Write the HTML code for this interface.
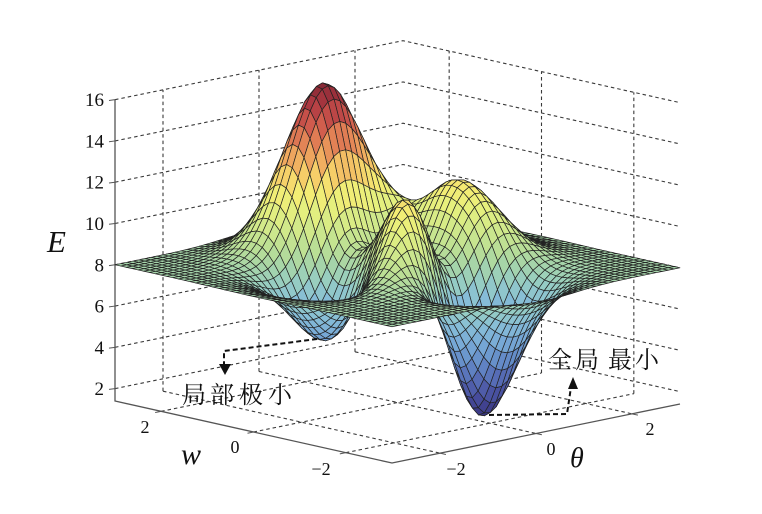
<!DOCTYPE html>
<html><head><meta charset="utf-8"><style>
html,body{margin:0;padding:0;background:#fff;}
svg{display:block;}
</style></head><body>
<svg id="s" width="762" height="514" viewBox="0 0 762 514" xmlns="http://www.w3.org/2000/svg">
<rect x="0" y="0" width="762" height="514" fill="#fff"/>
<g id="grid" fill="none" stroke="#3a3a3a" stroke-width="1.1" stroke-dasharray="3.5,3"></g>
<g id="axes" fill="none" stroke="#555" stroke-width="1.3"></g>
<g id="surf" stroke="#222" stroke-width="0.7" stroke-linejoin="round"></g>
<g font-family="'Liberation Serif', serif" font-size="19" fill="#111" text-anchor="end">
<text x="104" y="106.2">16</text>
<text x="104" y="147.4">14</text>
<text x="104" y="188.7">12</text>
<text x="104" y="230">10</text>
<text x="104" y="271.3">8</text>
<text x="104" y="312.6">6</text>
<text x="104" y="353.8">4</text>
<text x="104" y="395.1">2</text>
</g>
<g font-family="'Liberation Serif', serif" font-size="18" fill="#111" text-anchor="middle">
<text x="145" y="433">2</text>
<text x="235" y="453">0</text>
<text x="321" y="475">−2</text>
<text x="456" y="475">−2</text>
<text x="551" y="455">0</text>
<text x="650" y="435">2</text>
</g>
<g font-family="'Liberation Serif', serif" font-style="italic" fill="#111">
<text x="47" y="252" font-size="31">E</text>
<text x="181" y="464" font-size="30">w</text>
<text x="570" y="467" font-size="28">θ</text>
</g>
<g font-family="'Liberation Serif', 'Noto Serif CJK SC', serif" font-size="24" fill="#111">
<text x="182 210 239 268" y="403">局部极小</text>
<text x="548 575 608 635" y="368">全局最小</text>
</g>
<g fill="none" stroke="#111" stroke-width="2" stroke-dasharray="5,3">
<path d="M317 339 L224 351 L224 366"/>
<path d="M489 415 L567 414 L571 387"/>
</g>
<g fill="#111" stroke="none">
<polygon points="219,364 231,364 225,375"/>
<polygon points="568,389 578,389 573,377"/>
</g>
</svg>
<script>
(function(){
var NS='http://www.w3.org/2000/svg';
var N=49, Z0=1.4, S=20.64, ZT=16;
function P(u,v,z){return [115+277*v+288*u, 401+62*v-59*u-(z-Z0)*S];}
function pk(x,y){
  return 3*(1-x)*(1-x)*Math.exp(-x*x-(y+1)*(y+1))
   -10*(x/5-x*x*x-Math.pow(y,5))*Math.exp(-x*x-y*y)
   -1/3*Math.exp(-(x+1)*(x+1)-y*y);
}
var stops=[
[1.45,55,50,125],[2.5,70,75,155],[3.5,85,105,180],[4.5,100,140,200],
[5.5,120,170,215],[6.5,135,190,215],[7.3,150,205,195],[8.0,165,212,170],
[8.7,185,222,150],[9.5,206,232,140],[10.5,230,240,125],[11.3,245,236,115],
[12.0,246,208,105],[12.8,240,170,95],[13.6,226,128,85],[14.4,206,88,76],
[15.2,176,58,66],[16.1,130,38,52]];
function cmap(z){
  if(z<=stops[0][0]){var s=stops[0];return 'rgb('+s[1]+','+s[2]+','+s[3]+')';}
  for(var k=1;k<stops.length;k++){
    if(z<=stops[k][0]){
      var a=stops[k-1],b=stops[k],t=(z-a[0])/(b[0]-a[0]);
      return 'rgb('+Math.round(a[1]+(b[1]-a[1])*t)+','+Math.round(a[2]+(b[2]-a[2])*t)+','+Math.round(a[3]+(b[3]-a[3])*t)+')';
    }
  }
  var s=stops[stops.length-1];return 'rgb('+s[1]+','+s[2]+','+s[3]+')';
}
function f(n){return n.toFixed(2);}
function line(g,pts,extra){
  var d='M'+pts.map(function(p){return f(p[0])+' '+f(p[1]);}).join(' L');
  var el=document.createElementNS(NS,'path');el.setAttribute('d',d);
  if(extra){for(var k in extra)el.setAttribute(k,extra[k]);}
  g.appendChild(el);
}
var grid=document.getElementById('grid');
var ticks=[1/6,0.5,5/6];
for(var z=2;z<=16;z+=2){line(grid,[P(0,0,z),P(1,0,z),P(1,1,z)]);}
ticks.forEach(function(t){
  line(grid,[P(t,0,Z0),P(t,0,ZT)]);
  line(grid,[P(1,t,Z0),P(1,t,ZT)]);
  line(grid,[P(t,0,Z0),P(t,1,Z0)]);
  line(grid,[P(0,t,Z0),P(1,t,Z0)]);
});
var axes=document.getElementById('axes');
line(axes,[P(0,0,ZT),P(0,0,Z0),P(0,1,Z0),P(1,1,Z0)]);
for(var z2=2;z2<=16;z2+=2){var p=P(0,0,z2);line(axes,[[p[0]-6,p[1]+0.8],p],{'stroke-width':'1'});}
ticks.forEach(function(t){
  var p=P(0,t,Z0);line(axes,[p,[p[0]-6,p[1]+1.2]],{'stroke-width':'1'});
  var q=P(t,1,Z0);line(axes,[q,[q[0]+5.9,q[1]+1.3]],{'stroke-width':'1'});
});
var Zg=[];
for(var i=0;i<N;i++){Zg[i]=[];for(var j=0;j<N;j++){
  var u=i/(N-1),v=j/(N-1);Zg[i][j]=pk(-3+6*u,3-6*v)+8;}}
var faces=[];
for(var i=0;i<N-1;i++)for(var j=0;j<N-1;j++){
  var u0=i/(N-1),u1=(i+1)/(N-1),v0=j/(N-1),v1=(j+1)/(N-1);
  var za=Zg[i][j],zb=Zg[i+1][j],zc=Zg[i+1][j+1],zd=Zg[i][j+1];
  var p1=P(u0,v0,za),p2=P(u1,v0,zb),p3=P(u1,v1,zc),p4=P(u0,v1,zd);
  var uc=(u0+u1)/2,vc=(v0+v1)/2;
  faces.push({d:vc-0.902*uc,c:cmap((za+zb+zc+zd)/4),p:[p1,p2,p3,p4]});
}
faces.sort(function(a,b){return a.d-b.d;});
var sb=[];
for(var k=0;k<faces.length;k++){
  var F=faces[k];
  sb.push('<polygon fill="'+F.c+'" points="'+F.p.map(function(q){return f(q[0])+','+f(q[1]);}).join(' ')+'"/>');
}
document.getElementById('surf').innerHTML=sb.join('');
})();
</script>
</body></html>
